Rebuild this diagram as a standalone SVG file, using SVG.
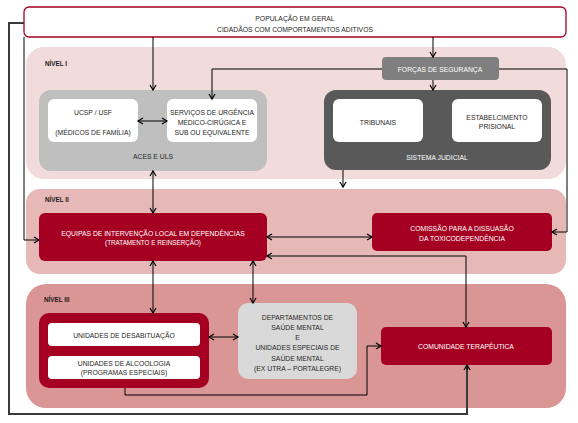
<svg xmlns="http://www.w3.org/2000/svg" width="578" height="423" viewBox="0 0 578 423">
<defs>
<marker id="ah" markerUnits="userSpaceOnUse" markerWidth="8" markerHeight="8" refX="6" refY="4" orient="auto-start-reverse">
<path d="M1,1 L6,4 L1,7" fill="none" stroke="#000" stroke-width="1.2"/>
</marker>
<marker id="ahk" markerUnits="userSpaceOnUse" markerWidth="8" markerHeight="8" refX="6" refY="4" orient="auto-start-reverse">
<path d="M1,1 L6,4 L1,7" fill="none" stroke="#222" stroke-width="1.2"/>
</marker>
</defs>
<style>
text{font-family:"Liberation Sans",Arial,sans-serif;font-size:6.8px;text-anchor:middle;fill:#262626}
.w{fill:#fff}
.lbl{font-weight:bold;text-anchor:start;font-size:6.3px;fill:#1a1a1a}
.c{fill:none;stroke:#000;stroke-width:1}
.s{marker-start:url(#ah)}
.e{marker-end:url(#ah)}
.red{fill:#a50021}
.wb{fill:#fff}
</style>
<rect x="0" y="0" width="578" height="423" fill="#fff"/>
<g id="nivel1">
<rect x="26" y="47" width="540" height="132" rx="18" fill="#f2dcdb"/>
<text class="lbl" x="45" y="65.5">NÍVEL I</text>
</g>
<g id="nivel2">
<rect x="26" y="189" width="540" height="85" rx="14" fill="#e6b9b8"/>
<text class="lbl" x="45" y="201.5">NÍVEL II</text>
</g>
<g id="nivel3">
<rect x="26" y="284" width="540" height="124" rx="20" fill="#d99694"/>
<text class="lbl" x="44" y="301.5">NÍVEL III</text>
</g>
<g id="populacao">
<rect x="24" y="7" width="542" height="30" rx="5" fill="#fff" stroke="#a50021" stroke-width="1.3"/>
<text x="295" y="21">POPULAÇÃO EM GERAL</text>
<text x="295" y="32">CIDADÃOS COM COMPORTAMENTOS ADITIVOS</text>
</g>
<g id="aces">
<rect x="39" y="90" width="228" height="81" rx="12" fill="#bfbfbf"/>
<text x="153" y="158.5">ACES E ULS</text>
</g>
<g id="ucsp">
<rect x="48" y="99" width="90" height="43" rx="6" class="wb"/>
<text x="93" y="114.5">UCSP / USF</text>
<text x="93" y="134.5">(MÉDICOS DE FAMÍLIA)</text>
</g>
<g id="servicos">
<rect x="167" y="99" width="90" height="43" rx="6" class="wb"/>
<text x="212" y="114.5">SERVIÇOS DE URGÊNCIA</text>
<text x="212" y="124.5">MÉDICO-CIRÚGICA E</text>
<text x="212" y="134.5">SUB OU EQUIVALENTE</text>
</g>
<g id="forcas">
<rect x="382" y="57" width="117" height="23" rx="4" fill="#7f7f7f"/>
<text class="w" x="440" y="71.5">FORÇAS DE SEGURANÇA</text>
</g>
<g id="sistema">
<rect x="324" y="90" width="227" height="80" rx="12" fill="#595959"/>
<text class="w" x="437" y="159.5">SISTEMA JUDICIAL</text>
</g>
<g id="tribunais">
<rect x="333" y="99" width="90" height="43" rx="6" class="wb"/>
<text x="378" y="124.5">TRIBUNAIS</text>
</g>
<g id="estabelecimento">
<rect x="452" y="99" width="90" height="43" rx="6" class="wb"/>
<text x="497" y="119.5">ESTABELCIMENTO</text>
<text x="497" y="128.5">PRISIONAL</text>
</g>
<g id="equipas">
<rect x="39" y="213" width="228" height="48" rx="6" class="red"/>
<text class="w" x="153" y="235.5">EQUIPAS DE INTERVENÇÃO LOCAL EM DEPENDÊNCIAS</text>
<text class="w" x="153" y="244.5" style="font-size:6.3px">(TRATAMENTO E REINSERÇÃO)</text>
</g>
<g id="comissao">
<rect x="372" y="213" width="180" height="38" rx="5" class="red"/>
<text class="w" x="462" y="230.5">COMISSÃO PARA A DISSUASÃO</text>
<text class="w" x="462" y="240.5">DA TOXICODEPENDÊNCIA</text>
</g>
<g id="unidades">
<rect x="39" y="313" width="170" height="75" rx="10" class="red"/>
</g>
<g id="desabituacao">
<rect x="48" y="323" width="152" height="23" rx="4" class="wb"/>
<text x="124" y="337.5">UNIDADES DE DESABITUAÇÃO</text>
</g>
<g id="alcoologia">
<rect x="48" y="356" width="152" height="23" rx="4" class="wb"/>
<text x="124" y="365.5">UNIDADES DE ALCOOLOGIA</text>
<text x="124" y="374.5">(PROGRAMAS ESPECIAIS)</text>
</g>
<g id="departamentos">
<rect x="238" y="303" width="119" height="76" rx="10" fill="#d9d9d9"/>
<text x="297.5" y="319.5">DEPARTAMENTOS DE</text>
<text x="297.5" y="330">SAÚDE MENTAL</text>
<text x="297.5" y="339.5">E</text>
<text x="297.5" y="349.5">UNIDADES ESPECIAIS DE</text>
<text x="297.5" y="360.5">SAÚDE MENTAL</text>
<text x="297.5" y="370.5">(EX UTRA – PORTALEGRE)</text>
</g>
<g id="comunidade">
<rect x="381" y="327" width="171" height="38" rx="5" class="red"/>
<text class="w" x="466" y="348.5">COMUNIDADE TERAPÊUTICA</text>
</g>
<g id="connectors">
<path class="c e" d="M153 37 V90"/>
<path class="c e" d="M433 37 V57"/>
<path class="c e" d="M433 80 V90"/>
<path class="c e" d="M382 69 H212 V99"/>
<path class="c e" d="M499 69 H567 V232 H552"/>
<path class="c s e" d="M138 121 H167"/>
<path class="c s e" d="M153 171 V213"/>
<path class="c e" d="M343 170 V187"/>
<path class="c e" d="M24 37 V240 H39"/>
<path class="c s e" d="M267 237 H372"/>
<path class="c s e" d="M267 256 H466 V327"/>
<path class="c s e" d="M153 261 V313"/>
<path class="c s e" d="M253 261 V303"/>
<path class="c s e" d="M209 337 H238"/>
<path class="c e" d="M125 388 V395 H367 V346 H381"/>
<path fill="none" stroke="#3a3a3a" stroke-width="2" d="M24 23 H9 V414 H467 V367"/>
<path class="c e" d="M467 370 V365"/>
</g>
</svg>
